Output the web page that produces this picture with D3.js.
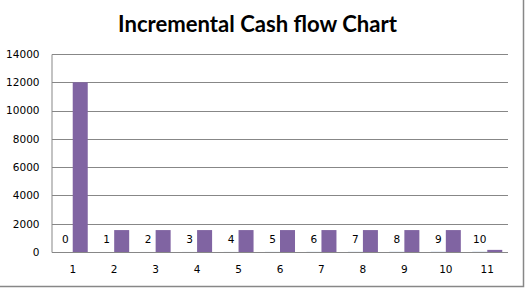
<!DOCTYPE html>
<html>
<head>
<meta charset="utf-8">
<script src="https://cdn.jsdelivr.net/npm/d3@7"></script>
<style>
  html, body { margin: 0; padding: 0; background: #fff; }
  svg { display: block; }
  .lbl { font-family: "DejaVu Sans", Verdana, sans-serif; font-size: 10.5px; fill: #000; }
</style>
</head>
<body>
<div id="chart"></div>
<script>
// categories on the x axis
const periods = [1, 2, 3, 4, 5, 6, 7, 8, 9, 10, 11];
// first series: the year number (tiny bars, only the labels show)
const years = [0, 1, 2, 3, 4, 5, 6, 7, 8, 9, 10];
// second series: incremental cash flow
const cashFlow = [12000, 1550, 1550, 1550, 1550, 1550, 1550, 1550, 1550, 1550, 150];
const yTicks = [0, 2000, 4000, 6000, 8000, 10000, 12000, 14000];

const W = 527, H = 289;
const margin = { top: 54, right: 19, bottom: 37, left: 52 };

const svg = d3.select('#chart').append('svg')
  .attr('width', W).attr('height', H);

// outer chart border (top/left are cut off)
svg.append('rect')
  .attr('x', -5).attr('y', -5)
  .attr('width', 528.5).attr('height', 291.5)
  .attr('fill', 'none').attr('stroke', '#878787').attr('stroke-width', 1.5);

const x = d3.scaleBand()
  .domain(periods)
  .range([margin.left, W - margin.right])
  .paddingInner(0.276)
  .paddingOuter(0.138);

const xSub = d3.scaleBand()
  .domain(['year', 'cash'])
  .range([0, x.bandwidth()]);

const y = d3.scaleLinear()
  .domain([0, 14000])
  .range([H - margin.bottom, margin.top]);

// gridlines
svg.append('g')
  .selectAll('line')
  .data(yTicks)
  .join('line')
  .attr('x1', margin.left).attr('x2', W - margin.right)
  .attr('y1', d => Math.round(y(d)) + 0.5)
  .attr('y2', d => Math.round(y(d)) + 0.5)
  .attr('stroke', '#878787');

// y axis
const yAxis = svg.append('g')
  .attr('transform', `translate(${margin.left - 0.5},0)`)
  .call(d3.axisLeft(y).tickValues(yTicks).tickSize(0).tickPadding(12).tickFormat(d3.format('d')));
yAxis.select('.domain').attr('stroke', '#878787');
yAxis.selectAll('text').attr('class', 'lbl').attr('fill', null);

// x axis
const xAxis = svg.append('g')
  .attr('transform', `translate(0,${Math.round(y(0)) + 0.5})`)
  .call(d3.axisBottom(x).tickSize(0).tickPadding(13));
xAxis.select('.domain').remove();
xAxis.selectAll('text').attr('class', 'lbl').attr('fill', null);

// bars
const groups = svg.append('g')
  .selectAll('g')
  .data(periods.map((p, i) => ({ p, year: years[i], cash: cashFlow[i] })))
  .join('g')
  .attr('transform', d => `translate(${x(d.p)},0)`);

groups.append('rect')
  .attr('x', xSub('year')).attr('width', xSub.bandwidth())
  .attr('y', d => y(d.year)).attr('height', d => y(0) - y(d.year))
  .attr('fill', '#4F81BD');

groups.append('rect')
  .attr('x', xSub('cash')).attr('width', xSub.bandwidth())
  .attr('y', d => y(d.cash)).attr('height', d => y(0) - y(d.cash))
  .attr('fill', '#8064A2');

// data labels for the year series
groups.append('text')
  .attr('class', 'lbl')
  .attr('x', xSub('year') + xSub.bandwidth() / 2)
  .attr('y', d => y(d.year) - 9)
  .attr('text-anchor', 'middle')
  .text(d => d.year);

// x-axis line on top of bars
svg.append('line')
  .attr('x1', margin.left).attr('x2', W - margin.right)
  .attr('y1', Math.round(y(0)) + 0.5).attr('y2', Math.round(y(0)) + 0.5)
  .attr('stroke', '#878787');

// title
const title = svg.append('text')
  .attr('x', 257.5).attr('y', 32)
  .attr('text-anchor', 'middle')
  .attr('font-family', 'Lato, "Open Sans", sans-serif')
  .attr('font-weight', 'bold')
  .attr('font-size', 21)
  .attr('fill', '#000')
  .text('Incremental Cash flow Chart');
const tw = title.node().getComputedTextLength();
title.attr('font-size', 21 * 279 / tw);
</script>
</body>
</html>
